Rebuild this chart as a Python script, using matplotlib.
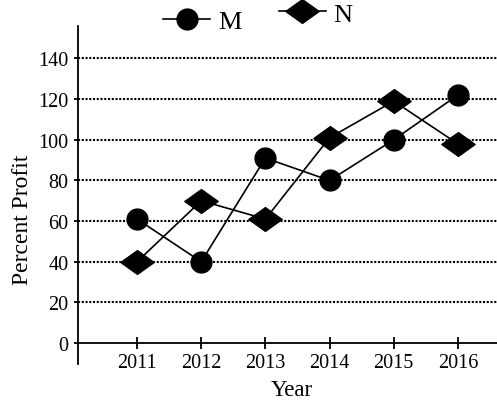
import matplotlib
matplotlib.use('Agg')
import matplotlib.pyplot as plt
from matplotlib.path import Path

years = [2011, 2012, 2013, 2014, 2015, 2016]
m_values = [61, 40, 91, 80, 100, 122]
n_values = [40, 70, 61, 101, 119, 98]
y_ticks = [0, 20, 40, 60, 80, 100, 120, 140]

plt.rcParams['font.family'] = ['Liberation Serif', 'DejaVu Serif']

# wide flat diamond like in the source picture
diamond = Path([(-1.4, 0), (0, 1), (1.4, 0), (0, -1), (-1.4, 0)],
               [Path.MOVETO, Path.LINETO, Path.LINETO, Path.LINETO, Path.CLOSEPOLY])

fig = plt.figure(figsize=(4.97, 4.02), dpi=100)
ax = fig.add_axes([0.157, 0.092, 0.843, 0.841])

for v in y_ticks[1:]:
    ax.axhline(v, color='black', lw=1.5, ls=(0, (1, 0.8)), zorder=1)

line_m, = ax.plot(years, m_values, color='black', lw=1.2, marker='o', ms=15,
                  zorder=3)
line_n, = ax.plot(years, n_values, color='black', lw=1.2, marker=diamond, ms=24,
                  zorder=3)

ax.set_xlim(2010.08, 2016.61)
ax.set_ylim(-10.3, 156)
ax.spines['top'].set_visible(False)
ax.spines['right'].set_visible(False)
ax.spines['bottom'].set_position(('data', 0))
ax.spines['left'].set_linewidth(1.3)
ax.spines['bottom'].set_linewidth(1.3)

ax.set_xticks(years)
ax.set_xticklabels([str(y) for y in years])
ax.set_yticks(y_ticks)
ax.tick_params(axis='x', direction='inout', length=9, width=1.3, pad=3, labelsize=14.5)
ax.tick_params(axis='y', direction='out', length=3, width=1.3, pad=4, labelsize=14.5)

ax.set_xlabel('Year', fontsize=16.5)
ax.xaxis.set_label_coords(0.51, -0.044)
ax.set_ylabel('Percent Profit', fontsize=17)
ax.yaxis.set_label_coords(-0.107, 0.43)

# the two legend entries sit at slightly different heights in the original
fig.legend([line_m], ['M'], loc='center left', bbox_to_anchor=(0.328, 0.945),
           frameon=False, fontsize=19, borderpad=0, borderaxespad=0,
           handlelength=1.78, handletextpad=0.3)
fig.legend([line_n], ['N'], loc='center left', bbox_to_anchor=(0.561, 0.963),
           frameon=False, fontsize=19, borderpad=0, borderaxespad=0,
           handlelength=1.78, handletextpad=0.3)

fig.savefig('out.png', dpi=100)
